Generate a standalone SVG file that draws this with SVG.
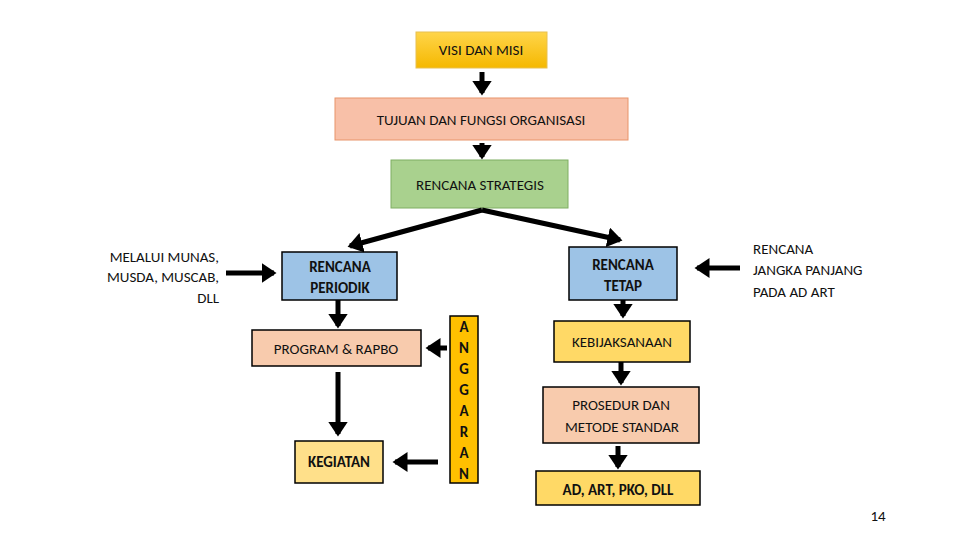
<svg xmlns="http://www.w3.org/2000/svg" width="960" height="540" viewBox="0 0 960 540">
<defs>
<marker id="ah" markerWidth="4" markerHeight="4" refX="2.5" refY="2" orient="auto" markerUnits="strokeWidth"><path d="M0,0 L3,2 L0,4 Z" fill="#000"/></marker>
<linearGradient id="gold" x1="0" y1="0" x2="0" y2="1"><stop offset="0" stop-color="#ffd54a"/><stop offset="1" stop-color="#f5b800"/></linearGradient>
</defs>
<style>
text{font-family:Calibri,"Liberation Sans",Arial,sans-serif;font-size:15px;fill:#111;text-anchor:middle}
.b{font-weight:bold}
.k{stroke-width:1.5}
.c line{stroke:#000;stroke-width:5;marker-end:url(#ah)}
</style>
<rect width="960" height="540" fill="#fff"/>
<g id="visi"><rect x="416" y="32" width="131" height="36" fill="url(#gold)" stroke="#e8c050"/><text x="481" y="55">VISI DAN MISI</text></g>
<g id="tujuan"><rect x="335" y="98" width="293" height="42" fill="#f8c0a8" stroke="#e8946a"/><text x="481" y="125">TUJUAN DAN FUNGSI ORGANISASI</text></g>
<g id="strategis"><rect x="391" y="160" width="177" height="48" fill="#a9d18e" stroke="#7fae62"/><text x="480" y="190">RENCANA  STRATEGIS</text></g>
<g id="periodik"><rect x="282" y="252" width="115" height="48" fill="#9dc3e6" stroke="#000" class="k"/><text x="340" y="272" class="b">RENCANA</text><text x="340" y="293" class="b">PERIODIK</text></g>
<g id="tetap"><rect x="569" y="247" width="108" height="53" fill="#9dc3e6" stroke="#000" class="k"/><text x="623" y="270" class="b">RENCANA</text><text x="623" y="291" class="b">TETAP</text></g>
<g id="program"><rect x="252" y="330" width="169" height="36" fill="#f8cbad" stroke="#000" class="k"/><text x="336" y="354">PROGRAM &amp; RAPBO</text></g>
<g id="kegiatan"><rect x="295" y="441" width="88" height="42" fill="#ffe08a" stroke="#000" class="k"/><text x="339" y="467" class="b">KEGIATAN</text></g>
<g id="anggaran"><rect x="450" y="316" width="28" height="167" fill="#ffc000" stroke="#000" class="k"/>
<text x="464" y="332" class="b">A</text><text x="464" y="353" class="b">N</text><text x="464" y="374" class="b">G</text><text x="464" y="395" class="b">G</text><text x="464" y="416" class="b">A</text><text x="464" y="437" class="b">R</text><text x="464" y="458" class="b">A</text><text x="464" y="479" class="b">N</text></g>
<g id="kebijaksanaan"><rect x="554" y="321" width="136" height="41" fill="#ffd966" stroke="#000" class="k"/><text x="622" y="347">KEBIJAKSANAAN</text></g>
<g id="prosedur"><rect x="543" y="387" width="156" height="56" fill="#f8cbad" stroke="#000" class="k"/><text x="621" y="410">PROSEDUR DAN</text><text x="622" y="432">METODE STANDAR</text></g>
<g id="adart"><rect x="536" y="471" width="164" height="34" fill="#ffd966" stroke="#000" class="k"/><text x="618" y="495" class="b">AD, ART, PKO, DLL</text></g>
<g id="melalui"><text x="219" y="262" style="text-anchor:end">MELALUI MUNAS,</text><text x="219" y="282" style="text-anchor:end">MUSDA, MUSCAB,</text><text x="219" y="303" style="text-anchor:end">DLL</text></g>
<g id="jangka"><text x="753" y="254" style="text-anchor:start">RENCANA</text><text x="753" y="275" style="text-anchor:start">JANGKA PANJANG</text><text x="753" y="297" style="text-anchor:start">PADA AD ART</text></g>
<text x="878" y="521">14</text>
<g class="c">
<line x1="482" y1="72" x2="482" y2="93"/>
<line x1="482" y1="143" x2="482" y2="157"/>
<line x1="482" y1="210" x2="350" y2="246"/>
<line x1="482" y1="210" x2="620" y2="240"/>
<line x1="226" y1="273" x2="274" y2="273"/>
<line x1="740" y1="268" x2="697" y2="268"/>
<line x1="338" y1="300" x2="338" y2="326"/>
<line x1="338" y1="372" x2="338" y2="434"/>
<line x1="447" y1="348" x2="428" y2="348"/>
<line x1="438" y1="462" x2="395" y2="462"/>
<line x1="623" y1="300" x2="623" y2="316"/>
<line x1="621" y1="362" x2="621" y2="383"/>
<line x1="618" y1="446" x2="618" y2="467"/>
</g>
</svg>
